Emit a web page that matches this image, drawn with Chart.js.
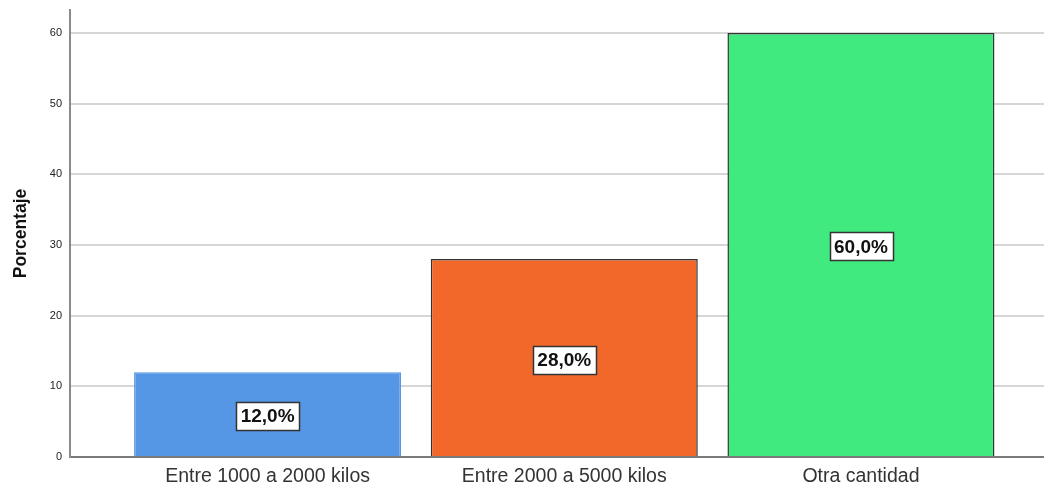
<!DOCTYPE html>
<html>
<head>
<meta charset="utf-8">
<script src="https://cdn.jsdelivr.net/npm/chart.js@4.4.1/dist/chart.umd.min.js"></script>
<style>
  html, body { margin: 0; padding: 0; background: #fff; }
  #wrap { width: 1044px; height: 483px; position: relative; }
</style>
</head>
<body>
<div id="wrap"><canvas id="chartBars"></canvas></div>
<script>
// datos del gráfico
var categorias = ['Entre 1000 a 2000 kilos', 'Entre 2000 a 5000 kilos', 'Otra cantidad'];
var porcentajes = [12, 28, 60];
var etiquetas = ['12,0%', '28,0%', '60,0%'];
var ticksY = [0, 10, 20, 30, 40, 50, 60];

var colores = ['#5596e5', '#f2682b', '#41ea7e'];
var bordes = ['#5596e5', '#333333', '#333333'];

// etiqueta en caja blanca en el centro de cada barra
var valueBoxes = {
  id: 'valueBoxes',
  afterDatasetsDraw: function(chart) {
    var ctx = chart.ctx;
    var meta = chart.getDatasetMeta(0);
    ctx.save();
    ctx.font = 'bold 19px "Liberation Sans", Arial, sans-serif';
    ctx.textAlign = 'center';
    ctx.textBaseline = 'middle';
    meta.data.forEach(function(bar, i) {
      var txt = etiquetas[i];
      var cx = bar.x;
      var cy = (bar.y + bar.base) / 2 + 2;
      var w = ctx.measureText(txt).width + 9;
      var h = 28;
      ctx.fillStyle = '#ffffff';
      ctx.fillRect(Math.round(cx - w / 2) + 0.5, Math.round(cy - h / 2) + 0.5, Math.round(w), h);
      ctx.strokeStyle = '#333333';
      ctx.lineWidth = 1.5;
      ctx.strokeRect(Math.round(cx - w / 2) + 0.5, Math.round(cy - h / 2) + 0.5, Math.round(w), h);
      ctx.fillStyle = '#111111';
      ctx.fillText(txt, cx, cy + 1);
    });
    ctx.restore();
  }
};

var puntos = porcentajes.map(function(v, i) { return { x: i, y: v }; });

new Chart(document.getElementById('chartBars'), {
  type: 'bar',
  data: {
    datasets: [{
      data: puntos,
      backgroundColor: colores,
      borderColor: bordes,
      borderWidth: 1.5,
      barPercentage: 0.9,
      categoryPercentage: 1
    }]
  },
  options: {
    responsive: true,
    maintainAspectRatio: false,
    animation: false,
    layout: { padding: { top: 10, right: 0, left: 0, bottom: 0 } },
    plugins: { legend: { display: false }, tooltip: { enabled: false } },
    scales: {
      x: {
        type: 'linear',
        offset: false,
        min: -0.666,
        max: 2.617,
        afterBuildTicks: function(axis) {
          axis.ticks = categorias.map(function(c, i) { return { value: i }; });
        },
        afterFit: function(axis) { axis.height = 26; axis.paddingLeft = 0; axis.paddingRight = 0; },
        grid: { display: false },
        border: { color: '#7a7a7a', width: 2 },
        ticks: {
          autoSkip: false,
          maxRotation: 0,
          padding: 0,
          color: '#333333',
          font: { family: '"Liberation Sans", Arial, sans-serif', size: 19.5 },
          callback: function(v) { return categorias[v]; }
        }
      },
      y: {
        min: 0,
        max: 63.25,
        afterBuildTicks: function(axis) {
          axis.ticks = ticksY.map(function(v) { return { value: v }; });
        },
        afterFit: function(axis) { axis.width = 70; axis.paddingTop = 0; axis.paddingBottom = 0; },
        grid: { color: '#d6d6d6', lineWidth: 2, drawTicks: false },
        border: { color: '#8a8a8a', width: 2 },
        ticks: {
          padding: 8,
          color: '#222222',
          font: { family: '"Liberation Sans", Arial, sans-serif', size: 11 }
        },
        title: {
          display: true,
          text: 'Porcentaje',
          color: '#111111',
          padding: { top: 11, bottom: 0 },
          font: { family: '"Liberation Sans", Arial, sans-serif', size: 17.5, weight: 'bold' }
        }
      }
    }
  },
  plugins: [valueBoxes]
});
</script>
</body>
</html>
